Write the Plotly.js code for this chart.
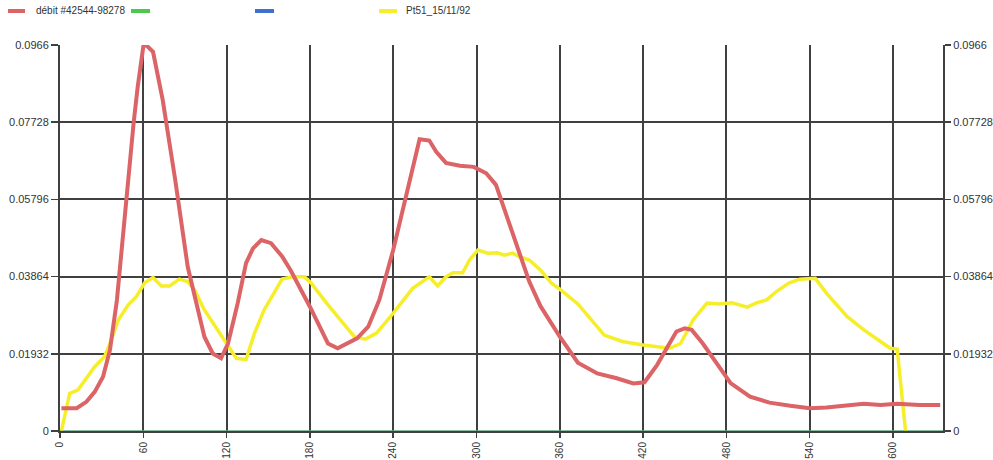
<!DOCTYPE html>
<html>
<head>
<meta charset="utf-8">
<script src="https://cdn.plot.ly/plotly-3.0.1.min.js"></script>
<style>html,body{margin:0;padding:0;background:#fff;}#chart{width:993px;height:460px;}</style>
</head>
<body>
<div id="chart"></div>
<script>
// ---- data ----
const seriesNames = ["débit #42544-98278", "", "", "Pt51_15/11/92"];

const debitX = [1,12,19,25,31,36,41,47,53,56,60,62,67,74,83,92,100,104,110,116,121,128,134,139,145,152,160,166,180,193,200,214,222,230,240,250,259,266,271,278,288,298,307,314,323,331,338,346,360,373,387,401,413,421,430,437,444,450,455,463,473,483,497,511,526,540,552,567,579,591,603,619,634];
const debitY = [0.0057,0.0057,0.0073,0.0098,0.0136,0.0203,0.0328,0.0561,0.0770,0.0862,0.0962,0.0966,0.0949,0.0828,0.0628,0.0411,0.0295,0.0236,0.0194,0.0182,0.0219,0.0320,0.0420,0.0457,0.0478,0.0470,0.0437,0.0403,0.0311,0.0219,0.0207,0.0232,0.0261,0.0328,0.0453,0.0595,0.0730,0.0727,0.0699,0.0671,0.0664,0.0661,0.0645,0.0616,0.0525,0.0445,0.0374,0.0313,0.0236,0.0171,0.0144,0.0132,0.0119,0.0122,0.0165,0.0207,0.0249,0.0257,0.0253,0.0219,0.0169,0.0120,0.0086,0.0071,0.0063,0.0057,0.0059,0.0065,0.0068,0.0065,0.0068,0.0065,0.0065];

const ptX = [1,7,13,19,25,32,36,42,49,55,61,67,73,79,86,92,97,104,112,119,127,134,140,147,154,160,168,176,181,192,203,212,220,228,238,247,254,266,272,278,283,290,295,301,308,315,320,326,331,338,346,354,360,373,382,392,405,420,439,447,456,466,475,484,495,502,509,516,525,533,544,552,567,579,591,598,603,606,609];
const ptY = [0,0.0094,0.0103,0.0132,0.0161,0.0186,0.0219,0.0278,0.0315,0.0336,0.0371,0.0384,0.0363,0.0363,0.0380,0.0374,0.0353,0.0303,0.0261,0.0224,0.0182,0.0179,0.0244,0.0303,0.0345,0.0380,0.0386,0.0386,0.0370,0.0320,0.0274,0.0236,0.0230,0.0245,0.0286,0.0328,0.0357,0.0386,0.0363,0.0386,0.0396,0.0396,0.0428,0.0453,0.0445,0.0446,0.0440,0.0445,0.0436,0.0428,0.0403,0.0370,0.0355,0.0318,0.0282,0.0240,0.0224,0.0215,0.0207,0.0219,0.0278,0.0320,0.0318,0.0321,0.0310,0.0321,0.0328,0.0349,0.0370,0.0380,0.0382,0.0345,0.0286,0.0253,0.0224,0.0207,0.0205,0.0094,0];

const greenX = [0, 636];
const greenY = [0, 0];
const blueX = [0, 636];
const blueY = [0, 0];

const xTickVals = [0,60,120,180,240,300,360,420,480,540,600];
const xTickText = ["0","60","120","180","240","300","360","420","480","540","600"];
const yTickVals = [0,0.01932,0.03864,0.05796,0.07728,0.0966];
const yTickText = ["0","0.01932","0.03864","0.05796","0.07728","0.0966"];

// ---- style ----
const colors = ["#dc6366", "#4cc84c", "#3f6fcf", "#f7ee2a"];
const W = 993, H = 460, ML = 60, MR = 50, MT = 45, MB = 29;
const plotW = W - ML - MR, plotH = H - MT - MB;
const px2x = p => (p - ML) / plotW;
const py2y = p => (H - MB - p) / plotH;
const gridCol = "#404040";
const font = {family: "Liberation Sans, Arial, sans-serif", size: 11, color: "#333"};

const traces = [
  {x: blueX, y: blueY, mode: "lines", line: {color: colors[2], width: 1}, name: seriesNames[2], hoverinfo: "skip"},
  {x: ptX, y: ptY, mode: "lines", line: {color: colors[3], width: 3.5}, name: seriesNames[3]},
  {x: debitX, y: debitY, mode: "lines", line: {color: colors[0], width: 4}, name: seriesNames[0]},
  {x: greenX, y: greenY, yaxis: "y2", mode: "lines", line: {color: "#7cc05a", width: 1}, name: seriesNames[1], hoverinfo: "skip"}
];

// manual legend (swatches + labels)
const legendItems = [
  {x0: 8, x1: 25, color: colors[0], text: seriesNames[0], tx: 34},
  {x0: 131, x1: 150, color: colors[1], text: seriesNames[1], tx: 0},
  {x0: 255, x1: 274, color: colors[2], text: seriesNames[2], tx: 0},
  {x0: 379, x1: 397, color: colors[3], text: seriesNames[3], tx: 404}
];
const legY = 11;
const shapes = legendItems.map(it => ({
  type: "line", xref: "paper", yref: "paper",
  x0: px2x(it.x0), x1: px2x(it.x1), y0: py2y(legY), y1: py2y(legY),
  line: {color: it.color, width: 4}
}));
const annotations = legendItems.filter(it => it.text).map(it => ({
  xref: "paper", yref: "paper", x: px2x(it.tx), y: py2y(legY),
  xanchor: "left", yanchor: "middle", showarrow: false, text: it.text,
  font: {family: font.family, size: 10, color: "#333"}
}));

const layout = {
  width: W, height: H,
  margin: {l: ML, r: MR, t: MT, b: MB},
  paper_bgcolor: "#fff", plot_bgcolor: "#fff",
  showlegend: false,
  font: font,
  xaxis: {
    range: [0, 636], tickvals: xTickVals, ticktext: xTickText, tickangle: -90,
    showgrid: true, gridcolor: gridCol, gridwidth: 2,
    zeroline: false, showline: true, linecolor: gridCol, linewidth: 2,
    ticks: "outside", ticklen: 5, tickcolor: gridCol, tickwidth: 1.5,
    tickfont: {family: font.family, size: 10, color: "#333"}
  },
  yaxis: {
    range: [0, 0.0966], tickvals: yTickVals, ticktext: yTickText,
    showgrid: true, gridcolor: gridCol, gridwidth: 2,
    zeroline: false, showline: true, linecolor: gridCol, linewidth: 2,
    ticks: "outside", ticklen: 7, tickcolor: gridCol, tickwidth: 1.5,
    tickfont: font
  },
  yaxis2: {
    range: [0, 0.0966], tickvals: yTickVals, ticktext: yTickText,
    overlaying: "y", side: "right", showgrid: false,
    zeroline: false, showline: true, linecolor: gridCol, linewidth: 2,
    ticks: "outside", ticklen: 6, tickcolor: gridCol, tickwidth: 1.5,
    tickfont: font
  },
  shapes: shapes,
  annotations: annotations
};

Plotly.newPlot("chart", traces, layout, {displayModeBar: false, staticPlot: true});
</script>
</body>
</html>
